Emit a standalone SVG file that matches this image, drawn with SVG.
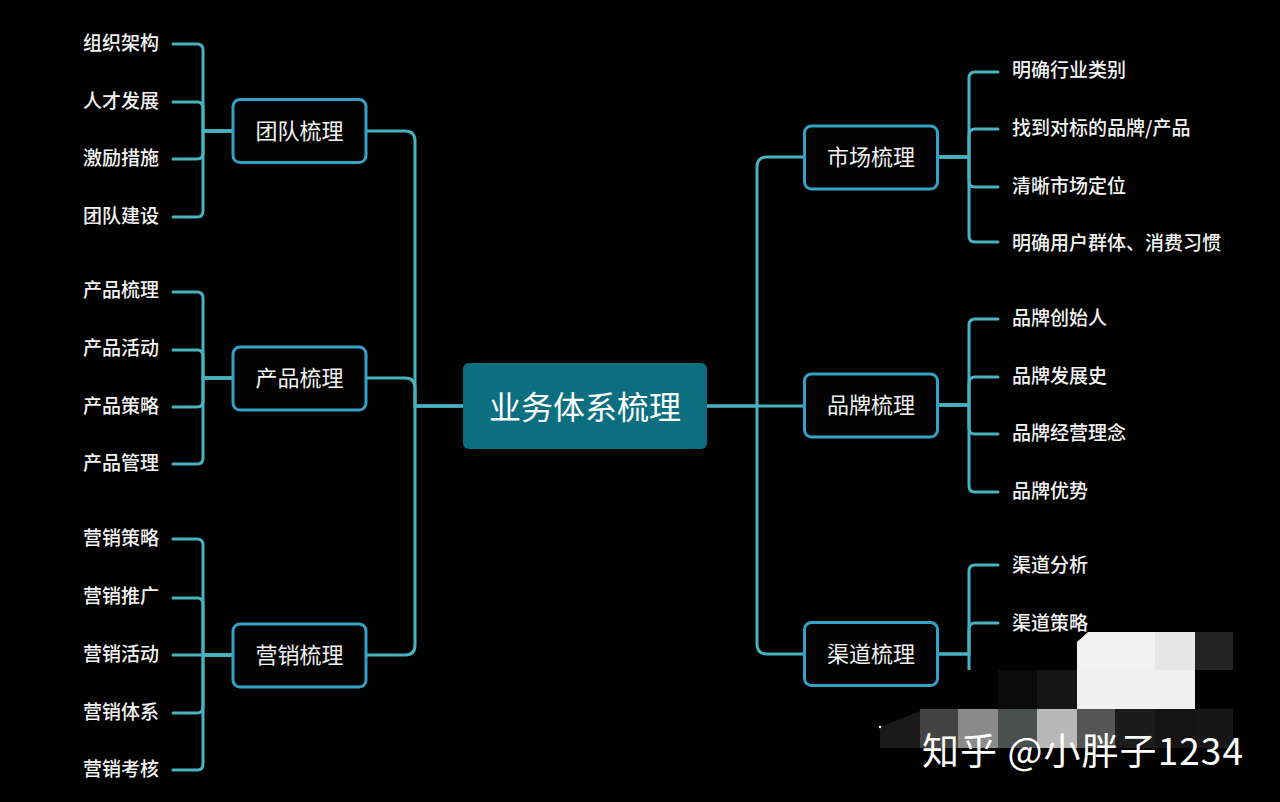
<svg xmlns="http://www.w3.org/2000/svg" width="1280" height="802" viewBox="0 0 1280 802">
<style>
.bg{fill:#020202}
.con{fill:none;stroke:#48b2c1;stroke-width:3;stroke-linecap:round;stroke-linejoin:round}
.box{fill:#030303;stroke:#34a2c6;stroke-width:3}
.t{font-family:"Noto Sans CJK SC","Noto Sans",sans-serif;fill:#f2f2f2;dominant-baseline:central}
.main{font-size:22px;text-anchor:middle}
.leaf{font-size:19px;font-weight:500}
.root{font-size:32px;text-anchor:middle;fill:#ffffff}
</style>
<rect class="bg" x="0" y="0" width="1280" height="802"/>
<g id="connectors">
  <path class="con" d="M463 406 H415 V141 Q415 131 405 131 H366"/>
  <path class="con" d="M463 406 H415 V388 Q415 378 405 378 H366"/>
  <path class="con" d="M463 406 H415 V645 Q415 655 405 655 H366"/>
  <path class="con" d="M707 406 H757 V167 Q757 157 767 157 H804"/>
  <path class="con" d="M707 406 H804"/>
  <path class="con" d="M757 406 V644 Q757 654 767 654 H804"/>
  <path class="con" d="M233 131 H203 V50 Q203 44 197 44 H173"/>
  <path class="con" d="M233 131 H203 V108 Q203 102 197 102 H173"/>
  <path class="con" d="M233 131 H203 V153 Q203 159 197 159 H173"/>
  <path class="con" d="M233 131 H203 V211 Q203 217 197 217 H173"/>
  <path class="con" d="M233 378 H203 V298 Q203 292 197 292 H173"/>
  <path class="con" d="M233 378 H203 V356 Q203 350 197 350 H173"/>
  <path class="con" d="M233 378 H203 V401 Q203 407 197 407 H173"/>
  <path class="con" d="M233 378 H203 V458 Q203 464 197 464 H173"/>
  <path class="con" d="M233 655 H203 V545 Q203 539 197 539 H173"/>
  <path class="con" d="M233 655 H203 V604 Q203 598 197 598 H173"/>
  <path class="con" d="M233 655 H173"/>
  <path class="con" d="M233 655 H203 V707 Q203 713 197 713 H173"/>
  <path class="con" d="M233 655 H203 V764 Q203 770 197 770 H173"/>
  <path class="con" d="M938 157 H969 V78 Q969 72 975 72 H998"/>
  <path class="con" d="M938 157 H969 V135 Q969 129 975 129 H998"/>
  <path class="con" d="M938 157 H969 V181 Q969 187 975 187 H998"/>
  <path class="con" d="M938 157 H969 V236 Q969 242 975 242 H998"/>
  <path class="con" d="M938 405 H969 V325 Q969 319 975 319 H998"/>
  <path class="con" d="M938 405 H969 V383 Q969 377 975 377 H998"/>
  <path class="con" d="M938 405 H969 V428 Q969 434 975 434 H998"/>
  <path class="con" d="M938 405 H969 V486 Q969 492 975 492 H998"/>
  <path class="con" d="M938 654 H969 V571 Q969 565 975 565 H998"/>
  <path class="con" d="M938 654 H969 V629 Q969 623 975 623 H998"/>
  <path class="con" d="M969 654 V670" style="stroke-linecap:butt"/>
</g>
<g id="root">
  <rect x="463" y="363" width="244" height="86" rx="6" fill="#0b6f7f"/>
  <text class="t root" x="585" y="404.5">业务体系梳理</text>
</g>
<g id="team">
  <rect class="box" x="233" y="99.5" width="133" height="63" rx="7"/>
  <text class="t main" x="299.5" y="128.5">团队梳理</text>
</g>
<g id="product">
  <rect class="box" x="233" y="347" width="133" height="63" rx="7"/>
  <text class="t main" x="299.5" y="376">产品梳理</text>
</g>
<g id="marketing">
  <rect class="box" x="233" y="624" width="133" height="63" rx="7"/>
  <text class="t main" x="299.5" y="653">营销梳理</text>
</g>
<g id="market">
  <rect class="box" x="804.5" y="126" width="133" height="63" rx="7"/>
  <text class="t main" x="871" y="155">市场梳理</text>
</g>
<g id="brand">
  <rect class="box" x="804.5" y="374" width="133" height="63" rx="7"/>
  <text class="t main" x="871" y="403">品牌梳理</text>
</g>
<g id="channel">
  <rect class="box" x="804.5" y="622.5" width="133" height="63" rx="7"/>
  <text class="t main" x="871" y="651.5">渠道梳理</text>
</g>
<g id="leaves-left">
  <text class="t leaf" x="83" y="41.5">组织架构</text>
  <text class="t leaf" x="83" y="99.5">人才发展</text>
  <text class="t leaf" x="83" y="156.5">激励措施</text>
  <text class="t leaf" x="83" y="214.5">团队建设</text>
  <text class="t leaf" x="83" y="288.5">产品梳理</text>
  <text class="t leaf" x="83" y="346.5">产品活动</text>
  <text class="t leaf" x="83" y="404.5">产品策略</text>
  <text class="t leaf" x="83" y="461.5">产品管理</text>
  <text class="t leaf" x="83" y="536.5">营销策略</text>
  <text class="t leaf" x="83" y="594.5">营销推广</text>
  <text class="t leaf" x="83" y="652.5">营销活动</text>
  <text class="t leaf" x="83" y="710.5">营销体系</text>
  <text class="t leaf" x="83" y="767.5">营销考核</text>
</g>
<g id="leaves-right">
  <text class="t leaf" x="1012" y="68.5">明确行业类别</text>
  <text class="t leaf" x="1012" y="126.5">找到对标的品牌/产品</text>
  <text class="t leaf" x="1012" y="184.5">清晰市场定位</text>
  <text class="t leaf" x="1012" y="241.5">明确用户群体、消费习惯</text>
  <text class="t leaf" x="1012" y="316.5">品牌创始人</text>
  <text class="t leaf" x="1012" y="374.5">品牌发展史</text>
  <text class="t leaf" x="1012" y="431.5">品牌经营理念</text>
  <text class="t leaf" x="1012" y="489.5">品牌优势</text>
  <text class="t leaf" x="1012" y="563.5">渠道分析</text>
  <text class="t leaf" x="1012" y="621.5">渠道策略</text>
</g>
<g id="mosaic">
  <polygon points="1077,642 1088,632 1155,632 1155,670 1077,670" fill="#f2f2f2"/>
  <rect x="1155" y="632" width="40" height="38" fill="#e6e6e6"/>
  <rect x="1195" y="632" width="38" height="38" fill="#232323"/>
  <rect x="998" y="670" width="39" height="39" fill="#0b0b0b"/>
  <rect x="1037" y="670" width="40" height="39" fill="#151515"/>
  <rect x="1077" y="670" width="118" height="39" fill="#f0f0f0"/>
  <polygon points="880,727 920,711 920,748 880,748" fill="#1a1a1a"/>
  <rect x="920" y="709" width="38" height="39" fill="#434343"/>
  <rect x="958" y="709" width="40" height="39" fill="#8a8a8a"/>
  <rect x="998" y="709" width="39" height="39" fill="#4a504d"/>
  <rect x="1037" y="709" width="40" height="39" fill="#b8b8b8"/>
  <rect x="1077" y="709" width="38" height="39" fill="#555555"/>
  <rect x="1115" y="709" width="40" height="39" fill="#1c1c1c"/>
  <rect x="1155" y="709" width="40" height="39" fill="#151515"/>
  <rect x="1195" y="709" width="38" height="39" fill="#171717"/>
  <circle cx="880" cy="727" r="1.2" fill="#ffffff"/>
</g>
<g id="watermark">
  <text x="922" y="749" font-family="Noto Sans CJK SC, Noto Sans, sans-serif" font-size="37" fill="#ffffff" textLength="321" lengthAdjust="spacing" dominant-baseline="central">知乎 @小胖子1234</text>
</g>
</svg>
